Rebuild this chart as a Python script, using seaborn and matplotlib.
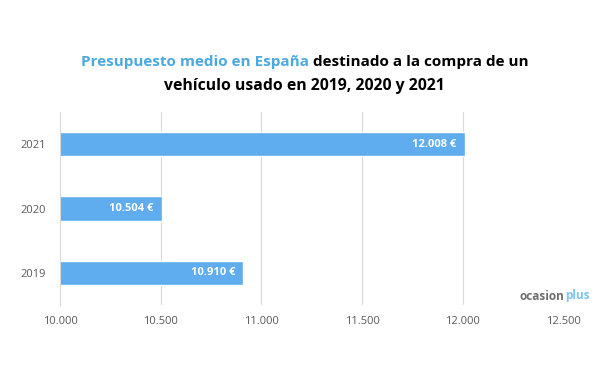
import pandas as pd
import seaborn as sns
import matplotlib.pyplot as plt

years = ['2021', '2020', '2019']
presupuesto = [12008, 10504, 10910]
etiquetas = ['12.008 €', '10.504 €', '10.910 €']
xticks = [10000, 10500, 11000, 11500, 12000, 12500]
xtick_labels = ['10.000', '10.500', '11.000', '11.500', '12.000', '12.500']

df = pd.DataFrame({'year': years, 'valor': presupuesto})

sns.set_style('white')
plt.rcParams['font.family'] = ['Open Sans', 'DejaVu Sans']

fig = plt.figure(figsize=(6.09, 3.73), dpi=100)
ax = fig.add_axes([0.0985, 0.182, 0.827, 0.518])

sns.barplot(data=df, x='valor', y='year', order=years, color='#5FADEE',
            width=0.375, saturation=1, ax=ax, zorder=3)

ax.set_xlim(10000, 12500)
ax.set_xticks(xticks)
ax.set_xticklabels(xtick_labels, fontsize=8, color='#595959')
ax.tick_params(axis='y', labelsize=8, labelcolor='#595959', length=0, pad=10)
ax.tick_params(axis='x', length=0, pad=8)
ax.set_xlabel('')
ax.set_ylabel('')
ax.grid(axis='x', color='#D9D9D9', linewidth=0.8, zorder=0)
for s in ['top', 'right', 'bottom']:
    ax.spines[s].set_visible(False)
ax.spines['left'].set_color('#D9D9D9')
ax.spines['left'].set_zorder(4)

for i, (v, lab) in enumerate(zip(presupuesto, etiquetas)):
    ax.text(v - 40, i, lab, ha='right', va='center', color='white',
            fontsize=8, fontweight='bold', zorder=5)

# titulo con dos colores
fig.canvas.draw()
r = fig.canvas.get_renderer()
p1 = 'Presupuesto medio en España'
p2 = ' destinado a la compra de un'
t1 = fig.text(0, 0, p1, fontsize=11, fontweight='bold', color='#4BA9E0')
t2 = fig.text(0, 0, p2, fontsize=11, fontweight='bold', color='black')
w1 = t1.get_window_extent(r).width
w2 = t2.get_window_extent(r).width
x0 = (609 - (w1 + w2)) / 2 / 609
t1.set_position((x0, 1 - 62 / 373))
t2.set_position((x0 + w1 / 609, 1 - 62 / 373))
t1.set_va('center')
t2.set_va('center')
fig.text(0.5, 1 - 86 / 373, 'vehículo usado en 2019, 2020 y 2021', ha='center',
         va='center', fontsize=11.3, fontweight='bold', color='black')

# logo
l2 = fig.text(590 / 609, 1 - 296 / 373, 'plus', fontsize=8.5, fontweight='bold',
              color='#7FC4EA', ha='right', va='center')
b = l2.get_window_extent(r).width
fig.text((590 - b - 1) / 609, 1 - 296 / 373, 'ocasion', fontsize=8.5,
         fontweight='bold', color='#6E6E6E', ha='right', va='center')

fig.savefig('out.png', dpi=100)
